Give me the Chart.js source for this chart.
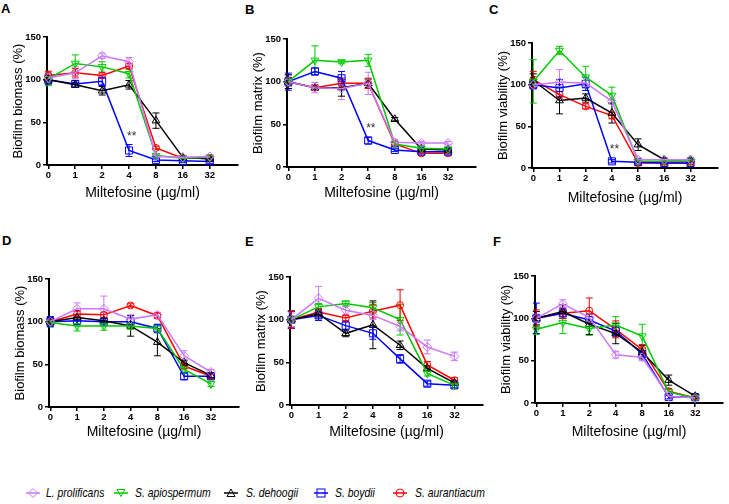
<!DOCTYPE html>
<html>
<head>
<meta charset="utf-8">
<script src="https://cdn.jsdelivr.net/npm/chart.js@4.4.0/dist/chart.umd.min.js"></script>
<style>
  body { margin: 0; width: 729px; height: 504px; overflow: hidden; position: relative; background: #fff; font-family: 'Liberation Sans', Arial, sans-serif; }
  canvas { position: absolute; }
  .letter { position: absolute; font-weight: bold; font-size: 13px; line-height: 13px; color: #000; }
  .leg-mark { position: absolute; top: 487px; }
  .leg-text { position: absolute; top: 485px; font-style: italic; font-size: 13px; line-height: 16px; white-space: nowrap; transform: scaleX(0.8); transform-origin: left center; color: #000; }
</style>
</head>
<body>
<div class="letter" style="left:1px;top:2px">A</div>
<div class="letter" style="left:245px;top:3px">B</div>
<div class="letter" style="left:489px;top:3px">C</div>
<div class="letter" style="left:2px;top:234px">D</div>
<div class="letter" style="left:245px;top:235px">E</div>
<div class="letter" style="left:493px;top:235px">F</div>
<div id="legend"></div>
<script>
'use strict'

/* global Chart */

const xLabels = ['0', '1', '2', '4', '8', '16', '32']
const seriesNames = ['L. prolificans', 'S. apiospermum', 'S. dehoogii', 'S. boydii', 'S. aurantiacum']

// rows: L. prolificans, S. apiospermum, S. dehoogii, S. boydii, S. aurantiacum
const biomassA = [
  [102, 108, 128, 121, 10, 9, 10],
  [101, 119, 115, 107, 11, 8, 9],
  [100, 94, 87, 94, 52, 9, 7],
  [100, 95, 98, 17, 6, 5, 4],
  [105, 108, 105, 116, 20, 8, 8]
]
const biomassAErr = [
  [5, 7, 3, 5, 2, 2, 2],
  [8, 10, 6, 5, 2, 2, 2],
  [5, 3, 5, 5, 9, 2, 2],
  [5, 4, 5, 7, 2, 2, 2],
  [5, 5, 3, 3, 2, 2, 2]
]
const matrixB = [
  [100, 93, 92, 98, 29, 28, 28],
  [100, 125, 123, 125, 27, 22, 21],
  [100, 93, 93, 98, 56, 21, 20],
  [100, 112, 104, 31, 20, 18, 18],
  [100, 93, 98, 98, 27, 16, 16]
]
const matrixBErr = [
  [8, 6, 13, 13, 3, 2, 2],
  [5, 17, 2, 7, 2, 2, 2],
  [8, 3, 10, 5, 2, 2, 2],
  [10, 4, 8, 4, 2, 2, 2],
  [5, 3, 5, 6, 2, 2, 2]
]
const viabilityC = [
  [100, 103, 102, 80, 10, 10, 10],
  [104, 141, 109, 87, 8, 8, 8],
  [105, 81, 84, 66, 28, 10, 10],
  [100, 96, 101, 8, 7, 6, 6],
  [106, 88, 74, 63, 6, 6, 6]
]
const viabilityCErr = [
  [5, 15, 3, 3, 2, 2, 2],
  [26, 5, 13, 10, 2, 2, 2],
  [8, 16, 5, 12, 7, 2, 2],
  [5, 10, 8, 2, 2, 2, 2],
  [10, 4, 3, 4, 2, 2, 2]
]
const biomassD = [
  [100, 115, 115, 103, 108, 60, 41],
  [99, 95, 95, 95, 92, 44, 27],
  [100, 105, 101, 95, 76, 52, 37],
  [100, 101, 100, 100, 92, 36, 36],
  [100, 109, 108, 119, 107, 48, 36]
]
const biomassDErr = [
  [3, 7, 15, 5, 3, 6, 3],
  [5, 6, 5, 4, 4, 5, 3],
  [5, 8, 3, 12, 16, 3, 3],
  [6, 4, 4, 4, 5, 4, 3],
  [3, 3, 3, 2, 3, 3, 3]
]
const matrixE = [
  [100, 125, 111, 105, 92, 68, 57],
  [100, 115, 119, 114, 100, 37, 23],
  [100, 107, 84, 94, 70, 43, 26],
  [100, 105, 93, 84, 54, 25, 23],
  [100, 109, 102, 110, 117, 47, 29]
]
const matrixEErr = [
  [8, 14, 5, 5, 5, 8, 5],
  [10, 4, 3, 6, 18, 3, 3],
  [10, 5, 4, 28, 5, 3, 3],
  [10, 6, 5, 7, 5, 3, 3],
  [10, 4, 3, 8, 18, 4, 3]
]
const viabilityF = [
  [100, 117, 101, 57, 54, 8, 6],
  [87, 95, 88, 92, 79, 13, 6],
  [100, 108, 93, 82, 60, 27, 8],
  [100, 106, 98, 85, 58, 7, 7],
  [100, 106, 109, 87, 63, 14, 6]
]
const viabilityFErr = [
  [5, 5, 4, 4, 4, 3, 2],
  [6, 13, 8, 10, 14, 3, 2],
  [8, 8, 12, 12, 8, 6, 2],
  [18, 6, 4, 6, 4, 2, 2],
  [10, 6, 15, 10, 6, 3, 2]
]
// position of the ** mark: [x index, y value]
const starA = [3.1, 33]
const starB = [3.1, 45]
const starC = [3.1, 22]

const seriesColors = ['#cc77ff', '#00c800', '#000000', '#0000ff', '#ff0000']
const seriesMarkers = ['rectRot', 'triangle', 'triangle', 'rect', 'circle']
const seriesRotation = [0, 180, 0, 0, 0]
const seriesRadius = [4.5, 4.5, 4.5, 5, 3.5]
const FONT = "'Liberation Sans', Arial, sans-serif"

const panels = [
  { axisX: 47, axisEnd: 242, top: 37, bottom: 165, xGap: 28, title: 'Biofilm biomass (%)', values: biomassA, errors: biomassAErr, star: starA },
  { axisX: 287, axisEnd: 480, top: 39, bottom: 167, xGap: 26, title: 'Biofilm matrix (%)', values: matrixB, errors: matrixBErr, star: starB },
  { axisX: 532, axisEnd: 722, top: 43, bottom: 168, xGap: 30, title: 'Biofilm viability (%)', values: viabilityC, errors: viabilityCErr, star: starC },
  { axisX: 49, axisEnd: 243, top: 279, bottom: 407, xGap: 25, title: 'Biofilm biomass (%)', values: biomassD, errors: biomassDErr, star: null },
  { axisX: 290, axisEnd: 487, top: 277, bottom: 405, xGap: 27, title: 'Biofilm matrix (%)', values: matrixE, errors: matrixEErr, star: null },
  { axisX: 535, axisEnd: 727, top: 276, bottom: 403, xGap: 29, title: 'Biofilm viability (%)', values: viabilityF, errors: viabilityFErr, star: null }
]

const errorBarPlugin = {
  id: 'errorBars',
  beforeDatasetsDraw (chart, args, opts) {
    const { ctx, scales: { x, y } } = chart
    ctx.save()
    ctx.lineWidth = 1
    chart.data.datasets.forEach((ds, i) => {
      const errs = opts.errors[i]
      ctx.strokeStyle = ds.borderColor
      ds.data.forEach((p, j) => {
        const px = x.getPixelForValue(p.x)
        const top = y.getPixelForValue(p.y + errs[j])
        const bot = y.getPixelForValue(Math.max(0, p.y - errs[j]))
        ctx.beginPath()
        ctx.moveTo(px, top)
        ctx.lineTo(px, bot)
        ctx.moveTo(px - 3.5, top)
        ctx.lineTo(px + 3.5, top)
        ctx.moveTo(px - 3.5, bot)
        ctx.lineTo(px + 3.5, bot)
        ctx.stroke()
      })
    })
    if (opts.star) {
      ctx.fillStyle = '#333'
      ctx.font = '12px ' + FONT
      ctx.textAlign = 'center'
      ctx.textBaseline = 'middle'
      ctx.fillText('**', x.getPixelForValue(opts.star[0]), y.getPixelForValue(opts.star[1]))
    }
    ctx.restore()
  }
}

function makeChart (p) {
  const left = p.axisX - 47
  const top = p.top - 12
  const canvas = document.createElement('canvas')
  canvas.width = p.axisEnd - left + 2
  canvas.height = p.bottom - top + 42
  canvas.style.left = left + 'px'
  canvas.style.top = top + 'px'
  document.body.appendChild(canvas)

  const tickFont = { family: FONT, size: 9.5, weight: 'bold' }
  const grid = { drawOnChartArea: false, drawTicks: true, tickLength: 4, color: '#000', lineWidth: 1.5 }
  const border = { display: true, color: '#000', width: 2 }

  return new Chart(canvas, {
    type: 'line',
    data: {
      datasets: seriesNames.map((name, i) => ({
        label: name,
        data: p.values[i].map((v, j) => ({ x: j, y: v })),
        borderColor: seriesColors[i],
        backgroundColor: 'rgba(255,255,255,0)',
        borderWidth: 1.5,
        pointStyle: seriesMarkers[i],
        pointRotation: seriesRotation[i],
        pointRadius: seriesRadius[i],
        pointBorderWidth: 1,
        pointBorderColor: seriesColors[i],
        pointBackgroundColor: 'rgba(255,255,255,0)',
        tension: 0,
        clip: false
      }))
    },
    options: {
      responsive: false,
      animation: false,
      events: [],
      layout: { padding: { top: 12, right: 2, left: 0, bottom: 0 } },
      plugins: {
        legend: { display: false },
        tooltip: { enabled: false },
        errorBars: { errors: p.errors, star: p.star }
      },
      scales: {
        x: {
          type: 'linear',
          min: -0.05,
          max: 7.05,
          afterBuildTicks: (s) => { s.ticks = xLabels.map((l, i) => ({ value: i })) },
          afterFit: (s) => { s.height = 42 },
          ticks: {
            callback: (v) => xLabels[Math.round(v)],
            font: tickFont,
            color: '#000',
            padding: 1,
            maxRotation: 0,
            autoSkip: false
          },
          grid,
          border,
          title: {
            display: true,
            text: 'Miltefosine (µg/ml)',
            font: { family: FONT, size: 14 },
            color: '#000',
            padding: { top: 0, bottom: 33.6 - p.xGap }
          }
        },
        y: {
          min: 0,
          max: 150,
          afterFit: (s) => { s.width = 47 },
          ticks: { stepSize: 50, font: tickFont, color: '#000', padding: 2 },
          grid,
          border,
          title: {
            display: true,
            text: p.title,
            font: { family: FONT, size: 13 },
            color: '#000',
            padding: { top: 11, bottom: 0 }
          }
        }
      }
    },
    plugins: [errorBarPlugin]
  })
}

panels.forEach(makeChart)

// legend
const legendMarkLeft = [26, 114, 224, 314, 393]
const legendTextLeft = [46, 135, 246, 335, 415]
const legendShapes = [
  '<polygon points="7,1.5 11.5,6 7,10.5 2.5,6"/>',
  '<polygon points="3,2.5 11,2.5 7,9.5"/>',
  '<polygon points="7,2 11,9.5 3,9.5"/>',
  '<rect x="3" y="2" width="8" height="8"/>',
  '<circle cx="7" cy="6" r="4"/>'
]
const legend = document.getElementById('legend')
seriesNames.forEach((name, i) => {
  const c = seriesColors[i]
  legend.insertAdjacentHTML('beforeend',
    '<svg class="leg-mark" style="left:' + legendMarkLeft[i] + 'px" width="14" height="12">' +
    '<line x1="0" y1="6" x2="14" y2="6" stroke="' + c + '" stroke-width="1.5"/>' +
    '<g fill="none" stroke="' + c + '" stroke-width="1">' + legendShapes[i] + '</g></svg>' +
    '<div class="leg-text" style="left:' + legendTextLeft[i] + 'px">' + name + '</div>')
})
</script>
</body>
</html>
